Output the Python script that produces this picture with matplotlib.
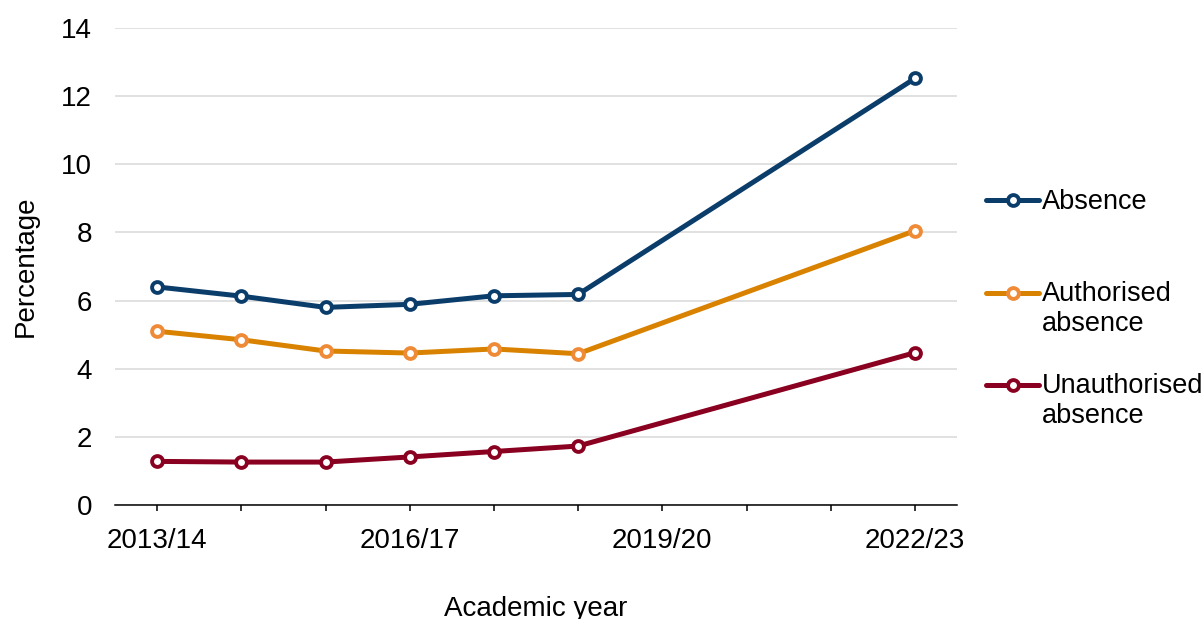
import numpy as np
import matplotlib.pyplot as plt

plt.rcParams['font.family'] = ['Liberation Sans', 'DejaVu Sans']

# ----------------------------
# Absence rates by academic year (no data for the pandemic years)
# ----------------------------
years = ["2013/14", "2014/15", "2015/16", "2016/17", "2017/18",
         "2018/19", "2019/20", "2020/21", "2021/22", "2022/23"]
absence = [6.4, 6.13, 5.8, 5.89, 6.14, 6.18, np.nan, np.nan, np.nan, 12.52]
authorised = [5.1, 4.85, 4.52, 4.46, 4.58, 4.44, np.nan, np.nan, np.nan, 8.05]
unauthorised = [1.28, 1.26, 1.26, 1.41, 1.57, 1.73, np.nan, np.nan, np.nan, 4.47]
labelled_years = ["2013/14", "2016/17", "2019/20", "2022/23"]

# trailing newline on the short label keeps the legend rows evenly spaced
series = [
    ("Absence\n", absence, "#0b3d6b", "#0b3d6b"),
    ("Authorised\nabsence", authorised, "#d98200", "#ef8a36"),
    ("Unauthorised\nabsence", unauthorised, "#8a0020", "#8a0020"),
]

fig = plt.figure(figsize=(12.04, 6.19), dpi=100)
ax = fig.add_axes([115 / 1204, 1 - 505 / 619, 842 / 1204, 477 / 619])

x = np.arange(len(years))
for name, values, line_col, edge_col in series:
    vals = np.array(values, dtype=float)
    ok = ~np.isnan(vals)
    ax.plot(x[ok], vals[ok], color=line_col, lw=3.6, label=name,
            marker="o", ms=7.8, mew=2.8, mfc="white", mec=edge_col,
            solid_capstyle="round", zorder=3)

ax.set_xlim(-0.5, len(years) - 0.5)
ax.set_ylim(0, 14)
ax.set_yticks(np.arange(0, 15, 2))
ax.set_xticks(x)
ax.set_xticklabels([y if y in labelled_years else "" for y in years])

ax.grid(axis="y", color="#d9d9d9", lw=1.1)
ax.set_axisbelow(True)
for side in ["left", "right", "top"]:
    ax.spines[side].set_visible(False)
ax.spines["bottom"].set_color("black")
ax.spines["bottom"].set_linewidth(1.1)

ax.tick_params(axis="y", length=0, pad=16.5, labelsize=20)
ax.tick_params(axis="x", length=4.5, width=1.1, pad=12, labelsize=20)

ax.set_ylabel("Percentage", fontsize=20, labelpad=16)
ax.set_xlabel("Academic year", fontsize=20, labelpad=30)

leg = fig.legend(loc="upper left", bbox_to_anchor=(962 / 1204, 1 - 165 / 619),
                 frameon=False, fontsize=19.5, handlelength=1.95, handleheight=1.1,
                 handletextpad=0.1, labelspacing=1.33)
# keep each handle level with the first line of its label
for col in leg._legend_handle_box.get_children():
    for row in col.get_children():
        row.align = "top"

fig.savefig("out.png", dpi=100)
